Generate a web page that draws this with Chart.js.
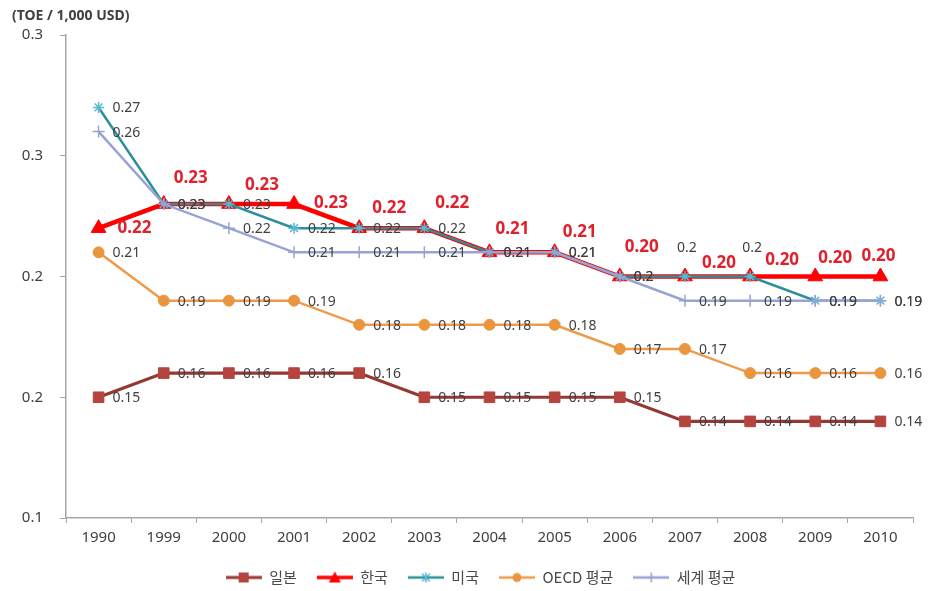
<!DOCTYPE html>
<html>
<head>
<meta charset="utf-8">
<script src="https://cdn.jsdelivr.net/npm/chart.js@4.4.1/dist/chart.umd.min.js"></script>
<style>
html,body{margin:0;padding:0;background:#fff;}
#c{display:block;}
</style>
</head>
<body>
<canvas id="c" width="929" height="591"></canvas>
<script>
// ---- data ----
const categories = ['1990','1999','2000','2001','2002','2003','2004','2005','2006','2007','2008','2009','2010'];
const japan = [0.15,0.16,0.16,0.16,0.16,0.15,0.15,0.15,0.15,0.14,0.14,0.14,0.14];
const korea = [0.22,0.23,0.23,0.23,0.22,0.22,0.21,0.21,0.20,0.20,0.20,0.20,0.20];
const usa   = [0.27,0.23,0.23,0.22,0.22,0.22,0.21,0.21,0.20,0.20,0.20,0.19,0.19];
const oecd  = [0.21,0.19,0.19,0.19,0.18,0.18,0.18,0.18,0.17,0.17,0.16,0.16,0.16];
const world = [0.26,0.23,0.22,0.21,0.21,0.21,0.21,0.21,0.20,0.19,0.19,0.19,0.19];
const seriesNames = ['일본','한국','미국','OECD 평균','세계 평균'];
const yTickLabels = ['0.1','0.2','0.2','0.3','0.3'];
const unitLabel = '(TOE / 1,000 USD)';

// ---- label placement (style, not data) ----
const koreaLabelOffsets = [[36,0],[27,-26],[33,-19],[37,-1],[30,-20],[28,-25],[23,-23],[25,-20],[22,-29],[34,-13],[32,-16],[20,-18],[-2,-20]];
const usaAbove = [9,10];

const FONT = "'Noto Sans', 'Noto Sans CJK KR', sans-serif";

const styles = [
  {line:'#953735', fill:'#b5443f', style:'rect', radius:7.5, width:3.2},
  {line:'#ff0000', fill:'#ff0000', style:'triangle', radius:8.5, width:4.5},
  {line:'#2f8e9c', fill:'#5ab8d0', style:'star', radius:5.5, width:2.5},
  {line:'#ef9a4a', fill:'#e9963e', style:'circle', radius:5.5, width:2.5},
  {line:'#97a3d3', fill:'#97a3d3', style:'cross', radius:6, width:2.5}
];

function makeIcon(s){
  const cv = document.createElement('canvas');
  cv.width = 36; cv.height = 14;
  const g = cv.getContext('2d');
  g.strokeStyle = s.line; g.lineWidth = Math.min(s.width,3.5);
  g.beginPath(); g.moveTo(0,7); g.lineTo(36,7); g.stroke();
  g.fillStyle = s.fill; g.strokeStyle = s.fill; g.lineWidth = 1.5;
  if (s.style==='rect'){ g.fillRect(13,2,10,10); }
  else if (s.style==='triangle'){ g.beginPath(); g.moveTo(18,1); g.lineTo(24,12); g.lineTo(12,12); g.closePath(); g.fill(); }
  else if (s.style==='circle'){ g.beginPath(); g.arc(18,7,4.5,0,Math.PI*2); g.fill(); }
  else if (s.style==='star'){ g.beginPath(); g.moveTo(14,3);g.lineTo(22,11);g.moveTo(22,3);g.lineTo(14,11);g.moveTo(18,2);g.lineTo(18,12);g.stroke(); }
  else { g.beginPath(); g.moveTo(18,2);g.lineTo(18,12);g.moveTo(13,7);g.lineTo(23,7);g.stroke(); }
  return cv;
}
const icons = styles.map(makeIcon);

const allData = [japan, korea, usa, oecd, world];
const datasets = allData.map((d,i)=>({
  label: seriesNames[i],
  data: d,
  borderColor: styles[i].line,
  backgroundColor: styles[i].fill,
  pointBackgroundColor: styles[i].fill,
  pointBorderColor: styles[i].fill,
  pointBorderWidth: (styles[i].style==='star'||styles[i].style==='cross') ? 1.5 : 1,
  borderWidth: styles[i].width,
  pointStyle: styles[i].style,
  pointRadius: styles[i].radius,
  tension: 0,
  fill: false,
  order: -i
}));

const valueLabels = {
  id: 'valueLabels',
  afterDatasetsDraw(chart){
    const ctx = chart.ctx;
    ctx.save();
    chart.data.datasets.forEach((ds, di)=>{
      const meta = chart.getDatasetMeta(di);
      meta.data.forEach((pt, j)=>{
        const v = ds.data[j];
        if (di === 1){
          const o = koreaLabelOffsets[j];
          ctx.font = "bold 17px " + FONT;
          ctx.fillStyle = '#e2202c';
          ctx.textAlign = 'center'; ctx.textBaseline = 'middle';
          ctx.fillText(v.toFixed(2), pt.x + o[0], pt.y + o[1]);
        } else {
          ctx.font = "14px " + FONT;
          ctx.fillStyle = '#3f3f3f';
          ctx.textBaseline = 'middle';
          if (di === 2 && usaAbove.includes(j)){
            ctx.textAlign = 'center';
            ctx.fillText(String(v), pt.x + 2, pt.y - 28);
          } else {
            ctx.textAlign = 'left';
            ctx.fillText(String(v), pt.x + 14, pt.y + 1);
          }
        }
      });
    });
    ctx.restore();
  }
};

const shiftLegend = {
  id: 'shiftLegend',
  afterLayout(chart){
    const lg = chart.legend;
    if (lg){ lg.left += 18; lg.right += 18; }
  }
};

new Chart(document.getElementById('c'), {
  type: 'line',
  data: { labels: categories, datasets },
  options: {
    responsive: false,
    animation: false,
    layout: { padding: { left: 12, right: 16, top: 0, bottom: -4 } },
    plugins: {
      tooltip: { enabled: false },
      title: {
        display: true, text: unitLabel, align: 'start',
        color: '#404040', font: { family: FONT, size: 14, weight: 'bold' },
        padding: { top: 8, bottom: 10.2 }
      },
      legend: {
        position: 'bottom',
        labels: {
          usePointStyle: true, pointStyleWidth: 36, boxHeight: 14,
          padding: 20, color: '#4a4a4a',
          font: { family: "'Noto Sans CJK KR', " + FONT, size: 15 },
          sort: (a, b) => a.datasetIndex - b.datasetIndex,
          generateLabels(chart){
            const items = Chart.defaults.plugins.legend.labels.generateLabels(chart);
            items.forEach((it)=>{ it.pointStyle = icons[it.datasetIndex]; it.rotation = 0; });
            return items;
          }
        }
      }
    },
    scales: {
      x: {
        offset: true,
        afterFit(scale){ scale.height -= 3; },
        grid: { display: true, drawOnChartArea: false, drawTicks: true, tickLength: 5, color: '#a6a6a6', offset: true },
        border: { display: true, color: '#a6a6a6', width: 1.5 },
        ticks: { color: '#404040', font: { family: FONT, size: 15 }, padding: 6, maxRotation: 0 }
      },
      y: {
        min: 0.1, max: 0.3,
        afterFit(scale){ scale.width = 54; },
        grid: { display: true, drawOnChartArea: false, drawTicks: true, tickLength: 6, color: '#a6a6a6' },
        border: { display: true, color: '#a6a6a6', width: 1.5 },
        ticks: {
          stepSize: 0.05, color: '#404040', font: { family: FONT, size: 15 }, padding: 17,
          callback: (v, i) => yTickLabels[i]
        }
      }
    }
  },
  plugins: [valueLabels, shiftLegend]
});
</script>
</body>
</html>
